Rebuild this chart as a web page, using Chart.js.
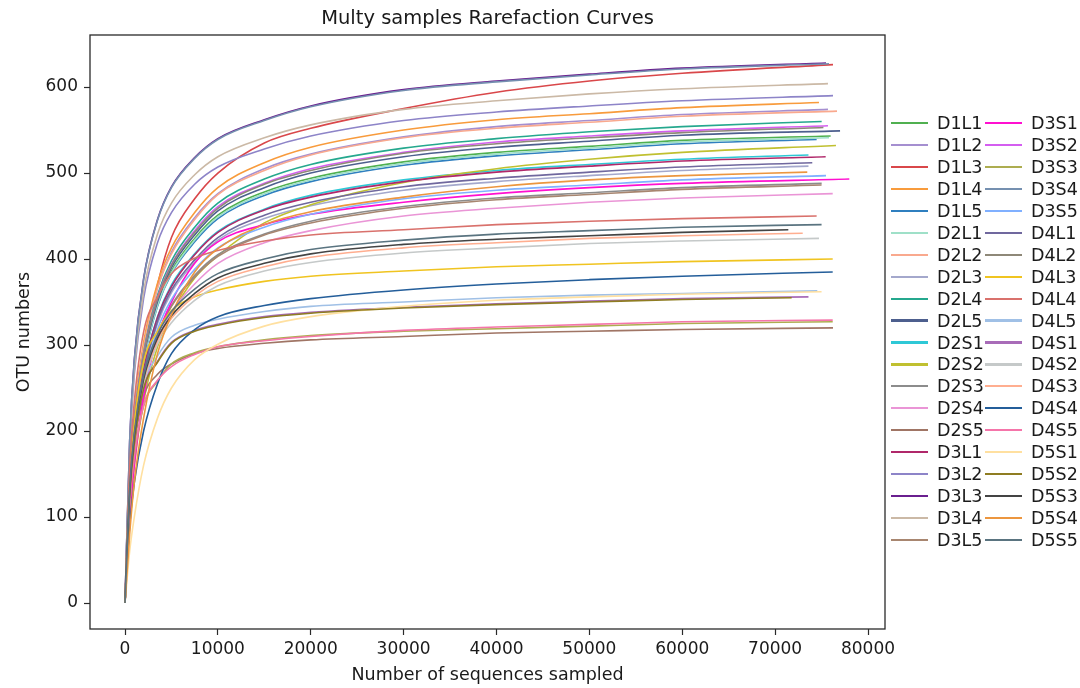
<!DOCTYPE html>
<html>
<head>
<meta charset="utf-8">
<script src="https://cdn.jsdelivr.net/npm/chart.js@4"></script>
<style>
  html, body { margin: 0; padding: 0; background: #ffffff; }
  #wrap { position: relative; width: 1080px; height: 688px; overflow: hidden; }
  #c { position: absolute; left: 0; top: 0; }
  .lg-line { position: absolute; height: 2.2px; }
  .lg-text { position: absolute; font-family: "DejaVu Sans", sans-serif; font-size: 17.5px; line-height: 22px; color: #1a1a1a; white-space: nowrap; }
</style>
</head>
<body>
<div id="wrap">
  <canvas id="c" width="1080" height="688"></canvas>
</div>
<script>
// ---- Data ----
const chartTitle = "Multy samples Rarefaction Curves";
const xTitle = "Number of sequences sampled";
const yTitle = "OTU numbers";
const xTickValues = [0, 10000, 20000, 30000, 40000, 50000, 60000, 70000, 80000];
const yTickValues = [0, 100, 200, 300, 400, 500, 600];

// sampling depths shared by all curves (the final point of each curve is its own depth below)
const depths = [0, 500, 1000, 2000, 3500, 5000, 7500, 10000, 15000, 20000, 30000, 40000, 50000, 60000];

const sampleNames = ["D1L1","D1L2","D1L3","D1L4","D1L5","D2L1","D2L2","D2L3","D2L4","D2L5",
                     "D2S1","D2S2","D2S3","D2S4","D2S5","D3L1","D3L2","D3L3","D3L4","D3L5",
                     "D3S1","D3S2","D3S3","D3S4","D3S5","D4L1","D4L2","D4L3","D4L4","D4L5",
                     "D4S1","D4S2","D4S3","D4S4","D4S5","D5S1","D5S2","D5S3","D5S4","D5S5"];

const sampleColors = ["#50b050","#a58fd0","#d9474a","#f89b3c","#2f7fbf","#9fe0c8","#f9a98e","#a4a8cc","#25a88e","#4d5f8e",
                      "#2ec8d6","#c0c030","#8c8c8c","#ea95d6","#a07565","#b0286a","#8d84c8","#6a1f8f","#cbb9a6","#a88670",
                      "#ff10d0","#d45ef0","#adad50","#7590b0","#80b0ff","#70689e","#8e8878","#f0c420","#d9716c","#a0c0e6",
                      "#a86cb8","#c5c9c9","#ffae90","#245e9a","#f575aa","#ffe0a0","#8f7d22","#444444","#ec963f","#5a7480"];

// total sequencing depth of each sample (x of the last point)
const finalDepths = [75980,75690,76230,74720,74470,75800,76660,73590,75010,76990,
                     73590,76550,75010,76200,76230,75440,76230,75480,75690,75000,
                     77985,75690,76200,75800,75480,74000,75200,76200,74470,74540,
                     73590,74720,72970,76200,76200,75000,71780,71420,73460,75000];

// OTU numbers at each depth, then at the final depth
const D1L1 = [0,136,206,282,348,386,424,451,478,494,513,524,531,538,543];
const D1L2 = [0,144,218,298,367,408,448,476,505,522,542,554,561,568,574];
const D1L3 = [0,120,195,290,370,425,470,500,535,552,575,594,607,616,626];
const D1L4 = [0,146,221,303,372,413,454,483,512,530,550,562,569,576,582];
const D1L5 = [0,135,205,280,345,383,420,447,474,490,509,520,527,534,539];
const D2L1 = [0,135,206,281,346,384,422,449,476,492,511,522,529,536,541];
const D2L2 = [0,143,217,297,366,406,446,475,503,521,541,552,559,566,572];
const D2L3 = [0,127,193,264,325,361,396,422,447,462,480,490,497,503,508];
const D2L4 = [0,140,213,291,358,398,437,465,493,510,529,540,548,554,560];
const D2L5 = [0,137,209,285,351,390,428,456,483,500,519,530,537,544,549];
const D2S1 = [0,130,198,271,333,370,406,432,458,474,492,503,510,516,521];
const D2S2 = [0,96,160,234,298,335,378,404,442,463,489,505,516,524,532];
const D2S3 = [0,122,185,254,312,346,381,405,429,444,461,471,477,483,488];
const D2S4 = [0,119,181,248,305,338,371,395,419,433,450,459,466,471,476];
const D2S5 = [0,128,186,240,266,278,290,296,302,306,310,314,316,318,320];
const D3L1 = [0,130,197,270,332,368,405,431,457,472,490,501,508,514,519];
const D3L2 = [0,177,266,354,419,454,487,507,528,543,561,571,578,584,590];
const D3L3 = [0,188,283,377,446,484,518,540,562,578,597,607,615,622,628];
const D3L4 = [0,181,272,362,429,465,498,519,541,556,574,584,592,598,604];
const D3L5 = [0,122,185,253,311,345,379,403,428,442,459,469,475,481,486];
const D3S1 = [0,100,160,240,310,350,395,420,440,452,466,476,483,488,493];
const D3S2 = [0,139,211,289,355,394,433,461,488,505,524,536,543,549,555];
const D3S3 = [0,114,170,229,258,278,291,298,306,311,316,319,322,325,327];
const D3S4 = [0,188,282,376,445,483,517,539,561,577,596,606,614,621,627];
const D3S5 = [0,124,189,258,318,353,388,413,437,452,470,480,486,492,497];
const D4L1 = [0,128,195,266,328,364,399,425,451,466,484,494,501,507,512];
const D4L2 = [0,138,210,288,354,393,431,459,487,503,523,534,541,547,553];
const D4L3 = [0,140,208,280,316,340,356,364,374,380,386,391,394,397,400];
const D4L4 = [0,158,234,315,356,383,401,410,421,428,434,440,444,447,450];
const D4L5 = [0,127,189,254,287,309,323,330,339,345,350,355,358,360,363];
const D4S1 = [0,125,185,249,281,303,317,324,333,338,344,348,351,354,356];
const D4S2 = [0,127,191,254,301,326,352,369,386,396,407,413,418,421,424];
const D4S3 = [0,129,194,258,305,331,357,374,391,402,413,419,424,427,430];
const D4S4 = [0,90,140,200,255,290,318,333,346,354,364,371,376,380,385];
const D4S5 = [0,115,171,230,259,275,289,298,305,310,317,321,324,327,329];
const D5S1 = [0,60,100,160,215,250,283,301,322,333,345,352,356,359,362];
const D5S2 = [0,124,185,249,280,302,316,323,332,337,343,347,350,353,355];
const D5S3 = [0,130,195,260,308,334,360,378,395,406,417,423,427,431,434];
const D5S4 = [0,80,140,215,290,335,385,412,440,455,472,484,492,497,501];
const D5S5 = [0,132,198,264,312,339,365,383,400,411,422,429,433,437,440];

const seriesValues = [D1L1,D1L2,D1L3,D1L4,D1L5,D2L1,D2L2,D2L3,D2L4,D2L5,
                      D2S1,D2S2,D2S3,D2S4,D2S5,D3L1,D3L2,D3L3,D3L4,D3L5,
                      D3S1,D3S2,D3S3,D3S4,D3S5,D4L1,D4L2,D4L3,D4L4,D4L5,
                      D4S1,D4S2,D4S3,D4S4,D4S5,D5S1,D5S2,D5S3,D5S4,D5S5];

// ---- Build chart ----
const FONT = "'DejaVu Sans', sans-serif";
const datasets = sampleNames.map((name, i) => {
  const xs = depths.concat([finalDepths[i]]);
  return {
    label: name,
    data: seriesValues[i].map((v, k) => ({ x: xs[k], y: v })),
    borderColor: sampleColors[i],
    backgroundColor: sampleColors[i],
    borderWidth: 1.6,
    pointRadius: 0,
    fill: false,
    cubicInterpolationMode: 'monotone',
    order: -i
  };
});

const framePlugin = {
  id: 'frame',
  afterDatasetsDraw(chart) {
    const a = chart.chartArea, ctx = chart.ctx;
    ctx.save();
    ctx.strokeStyle = '#2a2a2a';
    ctx.lineWidth = 1.3;
    ctx.strokeRect(a.left, a.top, a.right - a.left, a.bottom - a.top);
    ctx.restore();
  }
};

new Chart(document.getElementById('c'), {
  type: 'line',
  data: { datasets },
  plugins: [framePlugin],
  options: {
    responsive: false,
    animation: false,
    parsing: true,
    layout: { padding: { left: 0, right: 195, top: 0, bottom: 0 } },
    plugins: {
      legend: { display: false },
      tooltip: { enabled: false },
      title: {
        display: true,
        text: chartTitle,
        fullSize: false,
        color: '#1a1a1a',
        font: { family: FONT, size: 19.5, weight: 'normal', lineHeight: 1.2 },
        padding: { top: 7, bottom: 4.6 }
      }
    },
    scales: {
      x: {
        type: 'linear',
        min: -3770,
        max: 81830,
        afterFit(s) { s.height = 59; },
        afterBuildTicks(s) { s.ticks = xTickValues.map(v => ({ value: v })); },
        grid: { display: true, drawOnChartArea: false, drawTicks: true, tickLength: 6, tickColor: '#2a2a2a', tickWidth: 1.2 },
        border: { display: false },
        ticks: { color: '#1a1a1a', font: { family: FONT, size: 17 }, padding: 4, maxRotation: 0, autoSkip: false,
                 callback: v => String(v) },
        title: { display: true, text: xTitle, color: '#1a1a1a', font: { family: FONT, size: 17.5 }, padding: { top: 0, bottom: 2.5 } }
      },
      y: {
        type: 'linear',
        min: -30.2,
        max: 660.5,
        afterFit(s) { s.width = 90; },
        afterBuildTicks(s) { s.ticks = yTickValues.map(v => ({ value: v })); },
        grid: { display: true, drawOnChartArea: false, drawTicks: true, tickLength: 6, tickColor: '#2a2a2a', tickWidth: 1.2 },
        border: { display: false },
        ticks: { color: '#1a1a1a', font: { family: FONT, size: 17 }, padding: 6, autoSkip: false,
                 callback: v => String(v) },
        title: { display: true, text: yTitle, color: '#1a1a1a', font: { family: FONT, size: 17.5 }, padding: { top: 14, bottom: 0 } }
      }
    }
  }
});

// ---- Legend (two columns, to the right of the plot) ----
const wrap = document.getElementById('wrap');
const rowsPerCol = 20, row0 = 123, rowStep = 21.95;
const cols = [{ line: 891, text: 937 }, { line: 985, text: 1031 }];
sampleNames.forEach((name, i) => {
  const c = cols[Math.floor(i / rowsPerCol)];
  const y = row0 + (i % rowsPerCol) * rowStep;
  const ln = document.createElement('div');
  ln.className = 'lg-line';
  ln.style.left = c.line + 'px';
  ln.style.width = '37px';
  ln.style.top = (y - 1.1) + 'px';
  ln.style.background = sampleColors[i];
  wrap.appendChild(ln);
  const tx = document.createElement('div');
  tx.className = 'lg-text';
  tx.style.left = c.text + 'px';
  tx.style.top = (y - 11) + 'px';
  tx.textContent = name;
  wrap.appendChild(tx);
});
</script>
</body>
</html>
